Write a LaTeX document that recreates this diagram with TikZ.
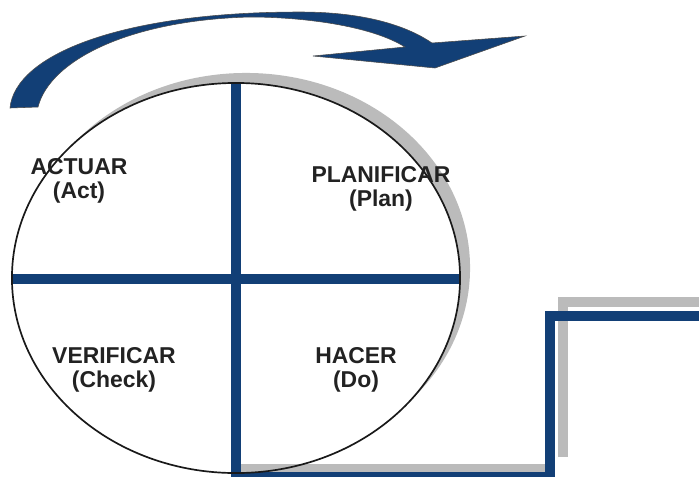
\documentclass[tikz,border=0pt]{standalone}
\usepackage{fontspec}
\setmainfont{Liberation Sans}
\usepackage{xcolor}
\definecolor{pdBlue}{HTML}{123F76}
\definecolor{pdShade}{HTML}{BBBBBB}
\definecolor{pdInk}{HTML}{222222}
\tikzset{
  bar/.style={draw=pdBlue, line width=0.26cm, line join=miter},
  shadebar/.style={draw=pdShade, line width=0.26cm, line join=miter},
  rim/.style={x radius=5.6cm, y radius=4.875cm},
  phase/.style={font=\fontsize{16.3}{17}\selectfont\bfseries, text=pdInk, align=center, inner sep=0pt},
}

\begin{document}
\begin{tikzpicture}[x=0.025cm, y=-0.025cm]
        \clip (0,0) rectangle (699,476);
        % ---------- turning arrow ----------
        \fill[pdBlue, draw=black!70, line width=0.4pt]
            (10,108) .. controls (15,55) and (120,12) .. (300,12)
            .. controls (370,12) and (410,28) .. (432,43)
            -- (525,36) -- (435,68) -- (313,56) -- (405,47)
            .. controls (370,25) and (300,17) .. (250,17)
            .. controls (130,20) and (50,60) .. (38,107) -- cycle;
        % ---------- wheel ----------
        \fill[pdShade] (246,268) ellipse [rim];
        \fill[white] (236,278) ellipse [rim];
        \draw[bar] (12,279) -- (460,279);
        % ---------- stair ----------
        \draw[shadebar, line width=0.2cm] (238,468) -- (550,468);
        \draw[shadebar] (563,457) -- (563,302) -- (699,302);
        \draw[bar] (236,83) -- (236,477) -- (550,477) -- (550,316) -- (699,316);
        \draw[black!90, line width=1.2pt] (236,278) ellipse [rim];
        % ---------- phases ----------
        \node[phase] (act) at (79,181) {ACTUAR\\(Act)};
        \node[phase] (plan) at (381,189) {PLANIFICAR\\(Plan)};
        \node[phase] (check) at (114,370) {VERIFICAR\\(Check)};
        \node[phase] (do) at (356,370) {HACER\\(Do)};
\end{tikzpicture}
\end{document}
